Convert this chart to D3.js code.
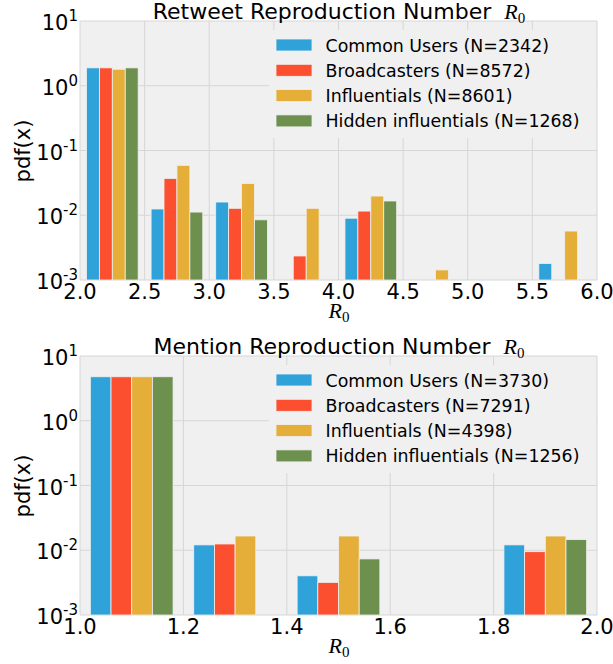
<!DOCTYPE html>
<html><head><meta charset="utf-8">
<script src="https://cdn.jsdelivr.net/npm/d3@7"></script>
<style>
html,body{margin:0;padding:0;background:#fff;}
text{font-family:"DejaVu Sans",sans-serif;fill:#000;}
.math{font-family:"Liberation Serif","DejaVu Serif",serif;}
</style></head>
<body><svg id="chart" width="613" height="664"></svg>
<script>
// ---------- data ----------
const seriesNames = ["Common Users", "Broadcasters", "Influentials", "Hidden influentials"];
const seriesColors = ["#30a2da", "#fc4f30", "#e5ae38", "#6d904f"];
const yTickExponents = [-3, -2, -1, 0, 1];

// Retweet panel
const retweetTitle = "Retweet Reproduction Number ";
const retweetN = [2342, 8572, 8601, 1268];
const retweetBins = [2.0, 2.5, 3.0, 3.5, 4.0, 4.5, 5.0, 5.5];
const retweetBinWidth = 0.5;
const retweetXTicks = [2.0, 2.5, 3.0, 3.5, 4.0, 4.5, 5.0, 5.5, 6.0];
const retweetCommon = [1.89, 0.0125, 0.016, null, 0.009, null, null, 0.0018];
const retweetBroad = [1.89, 0.037, 0.0128, 0.00235, 0.0116, null, null, null];
const retweetInfl = [1.80, 0.059, 0.031, 0.0128, 0.0198, 0.00143, null, 0.0057];
const retweetHidden = [1.89, 0.0112, 0.0085, null, 0.0166, null, null, null];

// Mention panel
const mentionTitle = "Mention Reproduction Number ";
const mentionN = [3730, 7291, 4398, 1256];
const mentionBins = [1.0, 1.2, 1.4, 1.6, 1.8];
const mentionBinWidth = 0.2;
const mentionXTicks = [1.0, 1.2, 1.4, 1.6, 1.8, 2.0];
const mentionCommon = [4.78, 0.0121, 0.00403, null, 0.0121];
const mentionBroad = [4.78, 0.0125, 0.00319, null, 0.0095];
const mentionInfl = [4.78, 0.0166, 0.0166, null, 0.0166];
const mentionHidden = [4.78, null, 0.00735, null, 0.0146];

// ---------- drawing ----------
const svg = d3.select("#chart");
const bg = "#f0f0f0", gridColor = "#d6d6d6";

function panel(cfg) {
  const g = svg.append("g").attr("transform", `translate(0,${cfg.offsetY})`);
  const x = d3.scaleLinear().domain([cfg.xTicks[0], cfg.xTicks[cfg.xTicks.length - 1]]).range([80, 597]);
  const y = d3.scaleLog().domain([1e-3, 1e1]).range([280, 21]);

  g.append("rect").attr("x", 80).attr("y", 21).attr("width", 517).attr("height", 259).attr("fill", bg);

  // grid
  g.append("g").selectAll("line.v").data(cfg.xTicks).join("line")
    .attr("x1", d => x(d)).attr("x2", d => x(d)).attr("y1", 21).attr("y2", 280)
    .attr("stroke", gridColor).attr("stroke-width", 1);
  g.append("g").selectAll("line.h").data(yTickExponents).join("line")
    .attr("y1", d => y(Math.pow(10, d))).attr("y2", d => y(Math.pow(10, d))).attr("x1", 80).attr("x2", 597)
    .attr("stroke", gridColor).attr("stroke-width", 1);

  // bars
  const w = cfg.binWidth;
  cfg.series.forEach((vals, si) => {
    g.append("g").selectAll("rect").data(vals.map((v, i) => ({ v, b: cfg.bins[i] })).filter(d => d.v != null)).join("rect")
      .attr("x", d => x(d.b + 0.1 * w + si * 0.2 * w))
      .attr("width", x(cfg.bins[0] + 0.2 * w) - x(cfg.bins[0]))
      .attr("y", d => y(d.v))
      .attr("height", d => y(1e-3) - y(d.v))
      .attr("fill", seriesColors[si])
      .attr("stroke", bg).attr("stroke-width", 0.8);
  });

  // legend
  g.append("rect").attr("x", 269).attr("y", 30).attr("width", 327).attr("height", 108).attr("fill", bg);
  seriesNames.forEach((name, i) => {
    const cy = 45 + i * 25.3;
    g.append("rect").attr("x", 276).attr("y", cy - 6).attr("width", 36).attr("height", 12)
      .attr("fill", seriesColors[i]).attr("stroke", bg).attr("stroke-width", 0.8);
    g.append("text").attr("x", 325.5).attr("y", cy + 6.5).attr("font-size", 17.4)
      .text(`${name} (N=${cfg.N[i]})`);
  });

  // x tick labels
  g.append("g").selectAll("text").data(cfg.xTicks).join("text")
    .attr("x", d => x(d)).attr("y", 298.5).attr("text-anchor", "middle").attr("font-size", 21)
    .text(d => d3.format(".1f")(d));

  // y tick labels
  const yl = g.append("g").selectAll("text").data(yTickExponents).join("text")
    .attr("x", 78).attr("y", d => y(Math.pow(10, d)) + 9).attr("text-anchor", "end").attr("font-size", 21);
  yl.append("tspan").text("10");
  yl.append("tspan").attr("dy", -9).attr("font-size", 15).text(d => d < 0 ? "-" + (-d) : String(d));

  // y label
  g.append("text").attr("transform", "translate(30,151) rotate(-90)").attr("text-anchor", "middle")
    .attr("font-size", 21).text("pdf(x)");

  // x label
  const xl = g.append("text").attr("x", 339).attr("y", 318).attr("text-anchor", "middle").attr("class", "math");
  xl.append("tspan").attr("font-style", "italic").attr("font-size", 22).text("R");
  xl.append("tspan").attr("font-size", 15).attr("dy", 4).text("0");

  // title
  const t = g.append("text").attr("x", 339).attr("y", 19).attr("text-anchor", "middle").attr("font-size", 22);
  t.append("tspan").text(cfg.title);
  t.append("tspan").attr("class", "math").attr("font-style", "italic").attr("font-size", 22).attr("dx", 6).text("R");
  t.append("tspan").attr("class", "math").attr("font-size", 15).attr("dy", 4).text("0");
}

panel({ offsetY: 0, title: retweetTitle, N: retweetN, bins: retweetBins, binWidth: retweetBinWidth,
  xTicks: retweetXTicks, series: [retweetCommon, retweetBroad, retweetInfl, retweetHidden] });
panel({ offsetY: 335, title: mentionTitle, N: mentionN, bins: mentionBins, binWidth: mentionBinWidth,
  xTicks: mentionXTicks, series: [mentionCommon, mentionBroad, mentionInfl, mentionHidden] });
</script></body></html>
